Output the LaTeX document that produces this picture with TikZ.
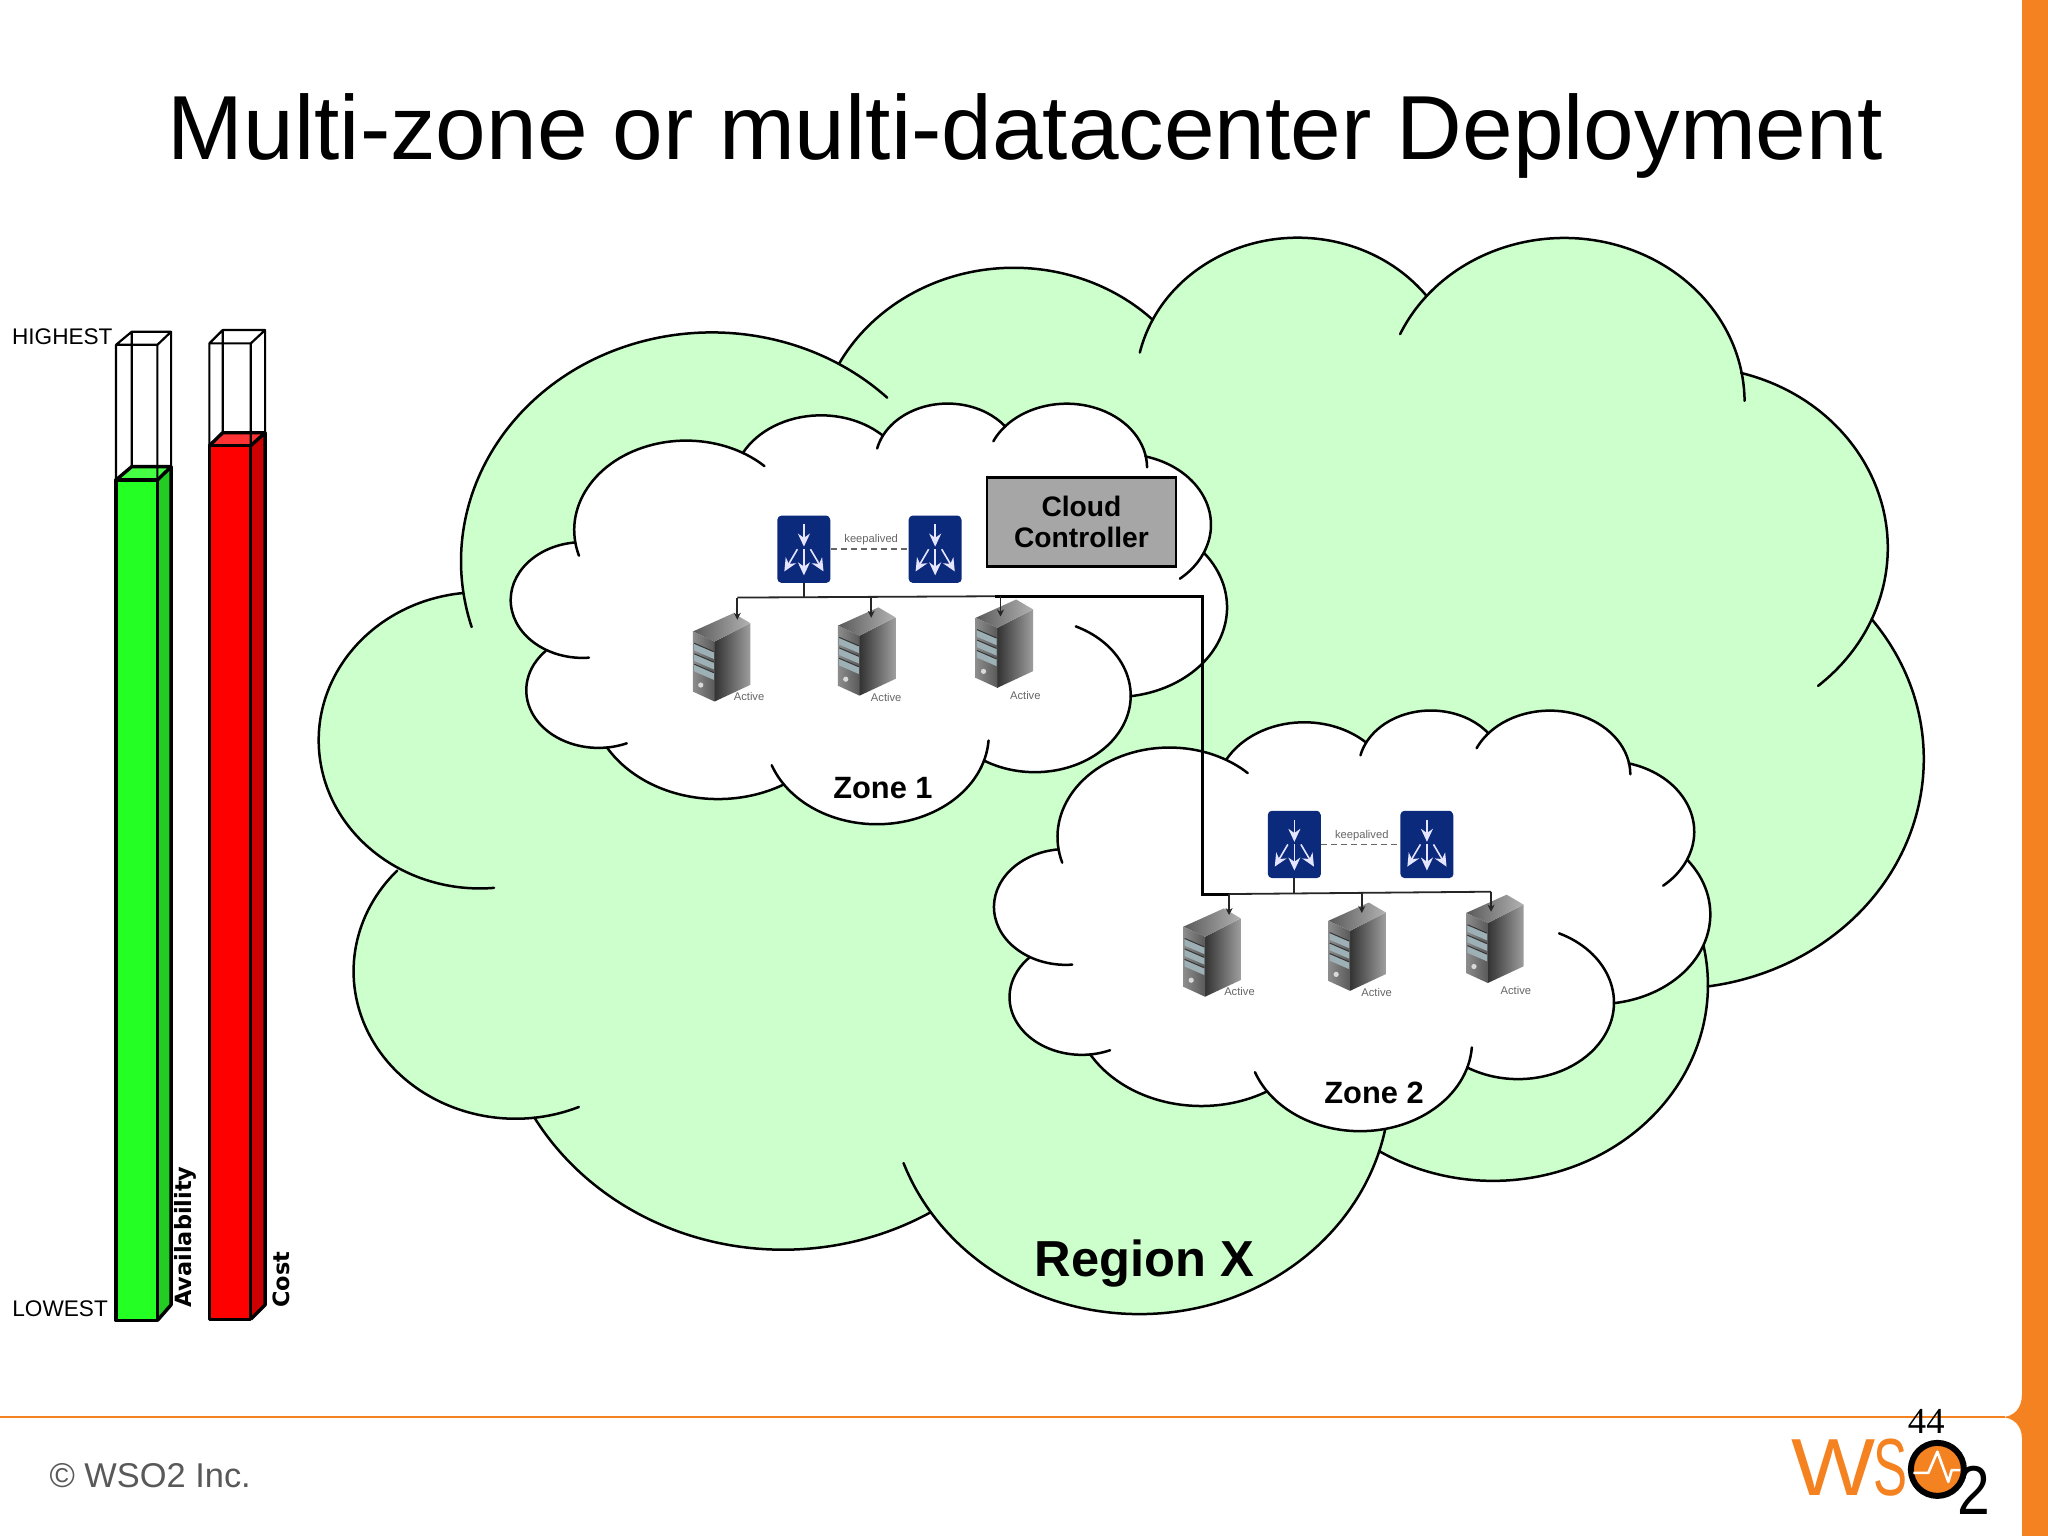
\documentclass[tikz,border=0pt]{standalone}
\usepackage{fontspec}
\setmainfont{Liberation Sans}
\newfontfamily\djvfont{DejaVu Sans}
\newfontfamily\serifnum{Liberation Serif}
\usetikzlibrary{arrows.meta,calc}
\definecolor{wsoorange}{HTML}{F58220}
\definecolor{regiongreen}{HTML}{CCFFCC}
\definecolor{switchblue}{HTML}{0B2A7C}
\definecolor{ccgray}{HTML}{A6A6A6}
\definecolor{grfront}{HTML}{24FF24}
\definecolor{grside}{HTML}{22CC22}
\definecolor{grtop}{HTML}{44FF44}
\definecolor{rdfront}{HTML}{FF0000}
\definecolor{rdside}{HTML}{CC0000}
\definecolor{rdtop}{HTML}{FF3333}
\definecolor{bandblue}{HTML}{9DB0B6}
\newcommand{\myfs}[1]{\fontsize{#1pt}{#1pt}\selectfont}
% one lobe of a cloud: centre x, y, radii x, y, start and end parameter
\def\lb#1#2#3#4#5#6{({#1+#3*cos(#5)},{#2+#4*sin(#5)}) arc[start angle=#5,end angle=#6,x radius=#3,y radius=#4]}
\newcommand{\cloudshape}[1]{%
  \edef\cloudfill{\noexpand\fill[#1]
    \lb{545}{429.7}{192}{175.2}{-187.75}{-59.6} --
    \lb{776.2}{343.6}{151.6}{138.6}{-152.02}{-45.45} --
    \lb{993.6}{295.4}{124.1}{113.4}{-153.49}{-37.33} --
    \lb{1197.6}{308}{138.1}{125.8}{-139.72}{-10.22} --
    \lb{1293.7}{419.5}{151.6}{138.7}{-74.78}{23.21} --
    \lb{1280.3}{581.2}{192.6}{175.8}{-37.53}{81.86} --
    \lb{1143.1}{754.1}{164.5}{150}{0.46}{122} --
    \lb{872.2}{830.4}{192}{175.7}{16.84}{146.24} --
    \lb{599.6}{755.7}{219.5}{201.1}{58.99}{150.19} --
    \lb{394.7}{743.6}{124}{112.9}{83.31}{223.11} --
    \lb{367.5}{566.8}{123.5}{113.4}{118.5}{264} -- cycle;}%
  \cloudfill
  \draw[cloudline] \lb{545}{429.7}{192}{175.2}{-196.7}{-45.6};
  \draw[cloudline] \lb{776.2}{343.6}{151.6}{138.6}{-152.02}{-45.45};
  \draw[cloudline] \lb{993.6}{295.4}{124.1}{113.4}{-167}{-37.33};
  \draw[cloudline] \lb{1197.6}{308}{138.1}{125.8}{-155.5}{-0.5};
  \draw[cloudline] \lb{1293.7}{419.5}{151.6}{138.7}{-75}{49.6};
  \draw[cloudline] \lb{1280.3}{581.2}{192.6}{175.8}{-37.53}{81.86};
  \draw[cloudline] \lb{1143.1}{754.1}{164.5}{150}{-64.7}{122};
  \draw[cloudline] \lb{872.2}{830.4}{192}{175.7}{3.8}{160};
  \draw[cloudline] \lb{599.6}{755.7}{219.5}{201.1}{58.99}{150.19};
  \draw[cloudline] \lb{394.7}{743.6}{124}{112.9}{67}{223.11};
  \draw[cloudline] \lb{367.5}{566.8}{123.5}{113.4}{85}{264};
}
% switch icon: name, x, y (centre)
\newcommand{\switchicon}[3]{%
  \node[switchbox] (#1) at (#2,#3) {};
  \begin{scope}[shift={(#2,#3)}]
    \fill[white] (18.5,-26.2) -- (20.7,-26.2) -- (20.7,-22) -- cycle;
    \draw[swarrow] (0,-19) -- (0,-2);
    \draw[swarrow] (0,0) -- (0,20);
    \draw[swarrow] (-5,0) -- (-15,17);
    \draw[swarrow] (5,0) -- (15,17);
  \end{scope}
}
% server icon: name, left x, top y
\newcommand{\servericon}[3]{%
  \node[serverbox] (#1) at ($(#2,#3)+(22,34)$) {};
  \begin{scope}[shift={(#2,#3)}]
    \shade[left color=black!80,right color=black!38] (16.6,21.7) -- (44,7.6) -- (44,54.8) -- (16.6,67.6) -- cycle;
    \shade[left color=black!65,right color=black!30] (0,14) -- (31,0) -- (44,7.6) -- (16.6,21.7) -- cycle;
    \shade[left color=black!45,right color=black!65] (0,14) -- (16.6,21.7) -- (16.6,67.6) -- (0,60) -- cycle;
    \foreach \yy in {23,31,39}{
      \fill[bandblue] (1,\yy) -- (16,\yy+6.5) -- (16,\yy+12) -- (1,\yy+5.5) -- cycle;
      \draw[black!80,line width=.5pt] (1,\yy) -- (16,\yy+6.5);
    }
    \fill[black!15] (6,55) circle (2);
  \end{scope}
}
\tikzset{
  cloudline/.style={draw=black,line width=1.25pt,line cap=round},
  switchbox/.style={fill=switchblue,rounded corners=2pt,minimum width=26.5pt,minimum height=33.6pt,inner sep=0pt},
  swarrow/.style={draw=white!90!blue,line width=.8pt,-{Stealth[length=6.5pt,width=6pt]}},
  serverbox/.style={minimum width=28pt,minimum height=44pt,inner sep=0pt},
  wire/.style={draw=black!85,line width=.9pt},
  thickwire/.style={draw=black,line width=1.5pt},
  portwire/.style={draw=black!85,line width=.9pt,-{Stealth[length=3.5pt,width=3.5pt]}},
  keepline/.style={draw=black!60,line width=.9pt,densely dashed},
  tinylabel/.style={text=black!60,inner sep=0pt,font=\myfs{5.6}},
  zonelabel/.style={inner sep=0pt,font=\bfseries\myfs{15.4}},
  barline/.style={draw=black,line width=1.1pt,line join=round},
  barfill/.style={draw=black,line width=1.7pt,line join=round},
  scalelabel/.style={inner sep=0pt,font=\myfs{11.3}},
  barname/.style={inner sep=0pt,rotate=90,anchor=west,font=\djvfont\bfseries\myfs{11.2}},
}
\begin{document}
\begin{tikzpicture}[x=0.653pt,y=-0.653pt]
\useasboundingbox (0,0) rectangle (1568,1176);
\fill[white] (0,0) rectangle (1568,1176);
% orange frame
\fill[wsoorange] (1548,0) rectangle (1568,1176);
\fill[wsoorange] (1548,1068) .. controls (1548,1078) and (1542,1085) .. (1532,1085) .. controls (1542,1085) and (1548,1092) .. (1548,1101) -- cycle;
\draw[wsoorange,line width=1.1pt] (0,1085) -- (1535,1085);
% title
\node[inner sep=0pt,anchor=base,font=\myfs{45.5}] (title) at (785,122) {Multi-zone or multi-datacenter Deployment};
% region cloud
\cloudshape{regiongreen}
% zones
\begin{scope}[shift={(391,309)},xscale=.4463,yscale=.3908,shift={(-244,-182)}]
\cloudshape{white}
\end{scope}
\begin{scope}[shift={(761,544)},xscale=.4463,yscale=.3908,shift={(-244,-182)}]
\cloudshape{white}
\end{scope}
\node[inner sep=0pt,font=\bfseries\myfs{25.3}] (region) at (876,967) {Region X};
\node[zonelabel] (zone1) at (676,603) {Zone 1};
\node[zonelabel] (zone2) at (1052,837) {Zone 2};
% cloud controller
\node[draw=black,line width=1.4pt,fill=ccgray,minimum width=94.5pt,minimum height=44.5pt,inner sep=0pt,align=center,font=\bfseries\myfs{14.1}] (cc) at (828,399.5) {Cloud\\[1.4pt]Controller};
% zone 1 network
\switchicon{swa}{615.5}{420.5}
\switchicon{swb}{716}{420.5}
\servericon{sva}{530.5}{469.5}
\servericon{svb}{641.5}{465}
\servericon{svc}{747}{459}
\node[tinylabel] (keepa) at (667,413) {keepalived};
\draw[keepline] (swa.east) -- (swb.west);
\node[tinylabel] (acta) at (573.5,533) {Active};
\node[tinylabel] (actb) at (678.5,534) {Active};
\node[tinylabel] (actc) at (785,532.7) {Active};
\coordinate (busal) at (564.5,457.5);
\coordinate (busaj) at (762,456.5);
\coordinate (cornera) at (921,456.5);
\coordinate (pa1) at (564.5,474.5);
\coordinate (pa2) at (667,473);
\coordinate (pa3) at (766,472);
% zone 2 network
\switchicon{swc}{991}{646.5}
\switchicon{swd}{1092.5}{646.5}
\servericon{svd}{906}{695.5}
\servericon{sve}{1017}{691}
\servericon{svf}{1122.5}{685}
\node[tinylabel] (keepb) at (1042.6,639.5) {keepalived};
\draw[keepline] (swc.east) -- (swd.west);
\node[tinylabel] (actd) at (949,759) {Active};
\node[tinylabel] (acte) at (1054,759.8) {Active};
\node[tinylabel] (actf) at (1160.6,758.7) {Active};
\coordinate (cornerb) at (921,684.5);
\coordinate (busbj) at (941,684.5);
\coordinate (busbr) at (1141.6,682.7);
\coordinate (pb1) at (941,700.6);
\coordinate (pb2) at (1042.6,699);
\coordinate (pb3) at (1141.6,698);
% wires
\draw[wire] (busal) -- (busaj);
\draw[thickwire,line join=miter] (busaj) -- (cornera) -- (cornerb) -- (busbj);
\draw[wire] (busbj) -- (busbr);
\draw[wire] (swa.south) -- (swa.south |- busal);
\draw[wire] (swc.south) -- (swc.south |- busbj);
\draw[portwire] (busal) -- (pa1);
\draw[portwire] (pa2 |- busal) -- (pa2);
\draw[portwire] (pa3 |- busaj) -- (pa3);
\draw[portwire] (busbj) -- (pb1);
\draw[portwire] (pb2 |- busbr) -- (pb2);
\draw[portwire] (busbr) -- (pb3);
% green bar
\fill[grside] (120.5,367.5) -- (131,357.3) -- (131,999) -- (120.5,1011) -- cycle;
\fill[grtop] (88.8,367.5) -- (100.8,357.3) -- (131,357.3) -- (120.5,367.5) -- cycle;
\draw[barline] (88.8,367.5) -- (88.8,264) -- (120.5,264) -- (120.5,367.5) (88.8,264) -- (100.8,254) -- (131,254) -- (120.5,264) (131,254) -- (131,357.3) (100.8,254) -- (100.8,357.3);
\draw[barfill,fill=grfront] (88.8,367.5) rectangle (120.5,1011);
\draw[barfill] (120.5,367.5) -- (131,357.3) -- (131,999) -- (120.5,1011) (88.8,367.5) -- (100.8,357.3) -- (131,357.3);
% red bar
\fill[rdside] (192,341.2) -- (203,331.3) -- (203,999) -- (192,1010) -- cycle;
\fill[rdtop] (160.3,341.2) -- (170.5,331.3) -- (203,331.3) -- (192,341.2) -- cycle;
\draw[barline] (160.3,341.2) -- (160.3,262.9) -- (192,262.9) -- (192,341.2) (160.3,262.9) -- (170.5,252.7) -- (203,252.7) -- (192,262.9) (203,252.7) -- (203,331.3) (170.5,252.7) -- (170.5,331.3);
\draw[barfill,fill=rdfront] (160.3,341.2) rectangle (192,1010);
\draw[barfill] (192,341.2) -- (203,331.3) -- (203,999) -- (192,1010) (160.3,341.2) -- (170.5,331.3) -- (203,331.3);
% bar labels
\node[scalelabel] (highest) at (47.7,257.5) {HIGHEST};
\node[scalelabel] (lowest) at (46,1002) {LOWEST};
\node[barname] (avail) at (142.3,1001.5) {Availability};
\node[barname] (cost) at (215.6,1001.5) {Cost};
% footer
\node[inner sep=0pt,text=black!65,font=\myfs{17.2}] (copy) at (115,1130) {© WSO2 Inc.};
\node[inner sep=0pt,font=\serifnum\myfs{18.3}] (pagenum) at (1474.8,1088.5) {44};
% logo
\node[inner sep=0pt,anchor=west,text=wsoorange,font=\myfs{40.5}] (logows) at (1371,1124) {\scalebox{1.1}[1]{W}\kern-1pt\scalebox{.63}[1]{S}};
\draw[black,fill=wsoorange,line width=3pt] (1483.3,1125) circle (20.3);
\draw[white,line width=1.3pt,line join=round] (1465,1127.6) -- (1476.4,1127.6) -- (1483.3,1111.5) -- (1491.7,1134.5) -- (1494.3,1125.5) -- (1500.7,1125.5);
\node[inner sep=0pt,font=\myfs{34.6}] (logotwo) at (1511,1141) {\scalebox{.85}[1]{2}};
\end{tikzpicture}
\end{document}
